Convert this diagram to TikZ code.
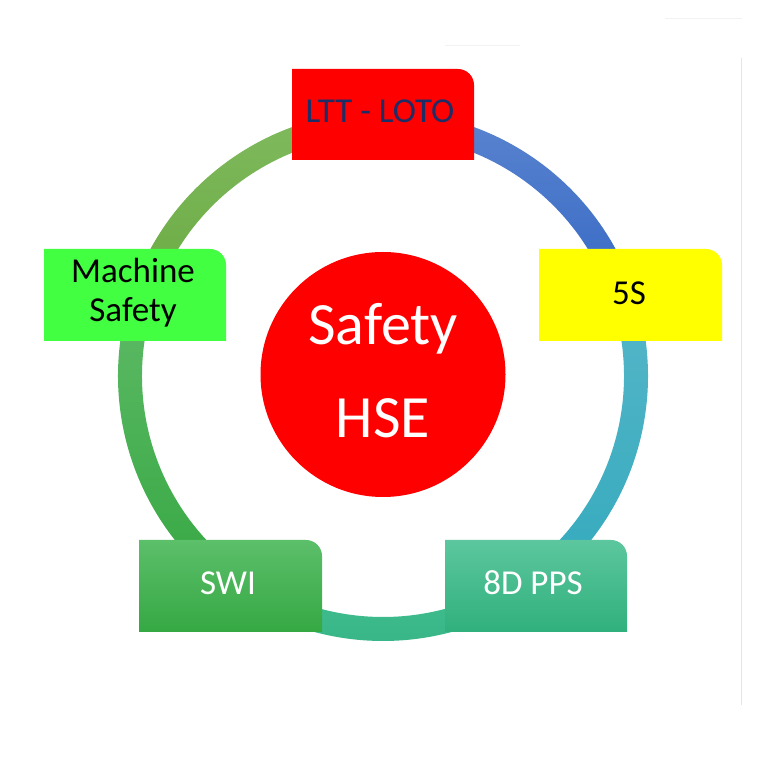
\documentclass[tikz,border=0pt]{standalone}
\usepackage{fontspec}
\setmainfont{Carlito}
\definecolor{olivetop}{HTML}{80BA5E}
\definecolor{olivebot}{HTML}{6AAA42}
\definecolor{bluetop}{HTML}{5A84CF}
\definecolor{bluebot}{HTML}{3568C4}
\definecolor{cyantop}{HTML}{55B6C8}
\definecolor{cyanbot}{HTML}{34AABD}
\definecolor{tealtop}{HTML}{42C090}
\definecolor{tealbot}{HTML}{36B487}
\definecolor{greentop}{HTML}{5EBA66}
\definecolor{greenbot}{HTML}{36A843}
\definecolor{ltred}{HTML}{FF0000}
\definecolor{ltyellow}{HTML}{FFFF00}
\definecolor{ltlime}{HTML}{42FF42}
\definecolor{switop}{HTML}{5CBF6A}
\definecolor{swibot}{HTML}{35A843}
\definecolor{pptop}{HTML}{5CC79E}
\definecolor{ppbot}{HTML}{30B07C}
\definecolor{navytext}{HTML}{1F2D66}
\newcommand\ringseg[4]{%
  \shade[top color=#3,bottom color=#4]
    ([shift={(#1:265)}]C) arc[start angle=#1,end angle=#2,radius=265]
    -- ([shift={(#2:241)}]C) arc[start angle=#2,end angle=#1,radius=241] -- cycle;}
\newcommand\cornerbox[5]{%
  \path[#5] (#1,#4) -- (#1,#2) -- ({#3-16},#2) arc[start angle=90,end angle=0,radius=16] -- (#3,#4) -- cycle;}
\begin{document}
\begin{tikzpicture}[x=1pt,y=1pt,
  boxtext/.style={anchor=base,inner sep=0pt,font=\fontsize{35}{40}\selectfont},
  bigtext/.style={anchor=base,inner sep=0pt,text=white,font=\fontsize{60}{68}\selectfont}]
\useasboundingbox (0,0) rectangle (768,769);
\fill[white] (0,0) rectangle (768,769);
% faint artefact lines
\draw[black!10,line width=0.6pt] (741,711) -- (741,64);
\draw[black!5,line width=0.6pt] (665,751) -- (742,751);
\draw[black!5,line width=0.6pt] (445,724) -- (520,724);
% ring
\coordinate (C) at (383,393);
\ringseg{90}{162}{olivetop}{olivebot}
\ringseg{18}{90}{bluetop}{bluebot}
\ringseg{-54}{18}{cyantop}{cyanbot}
\ringseg{-126}{-54}{tealtop}{tealbot}
\ringseg{-198}{-126}{greentop}{greenbot}
% centre circle
\fill[ltred] (383,394.5) circle[radius=122.5];
\node[bigtext] (safety) at (383,424) {Safety};
\node[bigtext] (hse) at (383,331) {HSE};
% boxes
\cornerbox{292}{700}{474}{609}{fill=ltred}
\cornerbox{539}{520}{722}{428}{fill=ltyellow}
\cornerbox{44}{520}{226}{428}{fill=ltlime}
\cornerbox{139}{229}{322}{137}{top color=switop,bottom color=swibot}
\cornerbox{445}{229}{627}{137}{top color=pptop,bottom color=ppbot}
% box texts
\node[boxtext,text=navytext] (loto) at (380,646) {LTT - LOTO};
\node[boxtext,text=black] (fives) at (629,464) {5S};
\node[boxtext,text=black] (mach1) at (133,486) {Machine};
\node[boxtext,text=black] (mach2) at (133,447) {Safety};
\node[boxtext,text=white] (swi) at (228,174) {SWI};
\node[boxtext,text=white] (pps) at (533,174) {8D PPS};
\end{tikzpicture}
\end{document}
